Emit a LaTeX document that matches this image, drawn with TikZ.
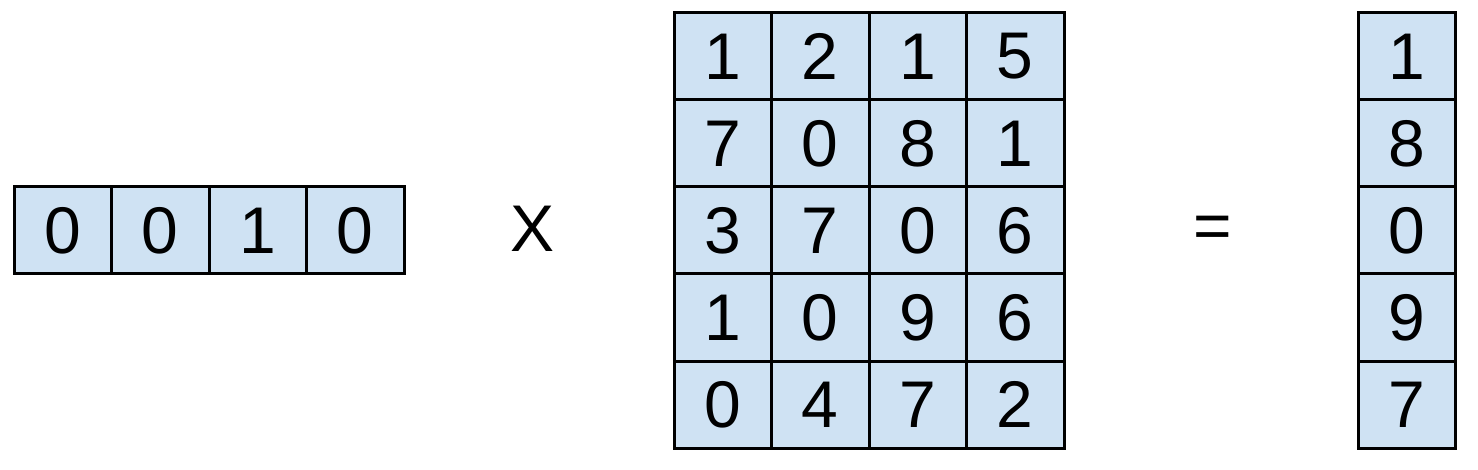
\documentclass[tikz,border=0pt]{standalone}
\usepackage{fontspec}
\setmainfont{Liberation Sans}
\definecolor{cellblue}{HTML}{CFE2F3}
\begin{document}
\begin{tikzpicture}[x=1pt,y=-1pt,
  cell/.style={draw=black,line width=3pt,fill=cellblue,minimum width=97.5pt,minimum height=87pt,inner sep=0pt,font=\fontsize{66}{66}\selectfont,text=black},
  op/.style={font=\fontsize{66}{66}\selectfont,text=black,inner sep=0pt}]
\useasboundingbox (0,0) rectangle (1478,470);
% left vector
\foreach \v [count=\i from 0] in {0,0,1,0}{
  \node[cell] (v\i) at (14+48.75+97.5*\i,230.5) {\v};
}
\node[op] (times) at (533,229) {X};
% matrix
\foreach \r/\row [count=\j from 0] in {0/{1,2,1,5},1/{7,0,8,1},2/{3,7,0,6},3/{1,0,9,6},4/{0,4,7,2}}{
  \foreach \v [count=\i from 0] in \row {
    \node[cell] (m\j\i) at (674+48.75+97.5*\i,13+43.5+87*\j) {\v};
  }
}
\node[op] (eq) at (1213,232) {=};
% result vector
\foreach \v [count=\j from 0] in {1,8,0,9,7}{
  \node[cell] (r\j) at (1358+49,13+43.5+87*\j) {\v};
}
\end{tikzpicture}
\end{document}
